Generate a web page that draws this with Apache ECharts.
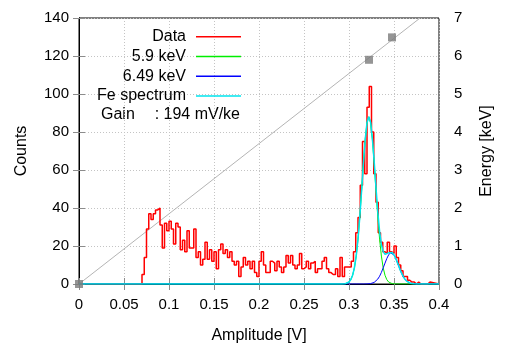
<!DOCTYPE html>
<html><head><meta charset="utf-8">
<script src="https://cdn.jsdelivr.net/npm/echarts@6/dist/echarts.min.js"></script>
<style>html,body{margin:0;padding:0;background:#fff}#c{width:523px;height:349px}</style>
</head><body><div id="c"></div>
<script>
// Histogram (Data): bins start at histStart, width histBinWidth
const histStart = 0.07;
const histBinWidth = 0.0025;
const dataCounts = [
  5, 14, 29, 37, 34, 37, 39, 40, 31, 19,
  32, 28, 33, 29, 21, 32, 30, 18, 23, 17,
  28, 19, 19, 29, 14, 17, 10, 13, 22, 13,
  18, 12, 17, 8, 18, 21, 16, 18, 14, 17,
  12, 10, 12, 4, 9, 14, 10, 12, 8, 12,
  6, 4, 12, 17, 10, 6, 6, 12, 11, 7,
  12, 9, 6, 9, 15, 11, 15, 10, 8, 10,
  16, 8, 9, 12, 8, 11, 12, 6, 8, 8,
  12, 14, 8, 6, 5, 5, 8, 4, 14, 4,
  9, 9, 9, 12, 17, 27, 35, 52, 75, 58,
  93, 104, 80, 58, 43, 27, 22, 17, 16, 22,
  17, 16, 20, 14, 10, 7, 4, 4, 2, 1,
  1, 0, 1, 0, 0, 0, 0, 1
];
// Fit curves
const fitX = [0, 0.288, 0.290, 0.292, 0.294, 0.296, 0.298, 0.300, 0.302, 0.304, 0.306, 0.308, 0.310, 0.312, 0.314, 0.316, 0.318, 0.320, 0.322, 0.324, 0.326, 0.328, 0.330, 0.332, 0.334, 0.336, 0.338, 0.340, 0.342, 0.344, 0.346, 0.348, 0.350, 0.352, 0.354, 0.356, 0.358, 0.360, 0.362, 0.364, 0.366, 0.368, 0.370, 0.372, 0.374, 0.376, 0.378, 0.380, 0.4];
const fit59 = [0, 0, 0.01, 0.02, 0.07, 0.18, 0.45, 1.06, 2.3, 4.6, 8.5, 14.7, 23.6, 35.3, 49.1, 63.4, 76.0, 84.9, 88.0, 84.9, 76.0, 63.4, 49.1, 35.3, 23.6, 14.7, 8.5, 4.6, 2.3, 1.06, 0.46, 0.18, 0.07, 0.02, 0.01, 0, 0, 0, 0, 0, 0, 0, 0, 0, 0, 0, 0, 0, 0];
const fit649 = [0, 0, 0, 0, 0, 0, 0, 0, 0, 0, 0, 0, 0, 0, 0, 0, 0.02, 0.04, 0.1, 0.21, 0.44, 0.85, 1.53, 2.6, 4.1, 6.1, 8.5, 11.0, 13.4, 15.3, 16.4, 16.4, 15.3, 13.4, 11.0, 8.5, 6.1, 4.1, 2.6, 1.53, 0.85, 0.44, 0.21, 0.1, 0.04, 0.02, 0, 0, 0];
const fitFe = [0, 0, 0.01, 0.02, 0.07, 0.18, 0.46, 1.06, 2.3, 4.6, 8.5, 14.7, 23.6, 35.3, 49.1, 63.4, 76.0, 84.9, 88.1, 85.1, 76.4, 64.3, 50.6, 37.9, 27.7, 20.8, 17.0, 15.6, 15.7, 16.4, 16.9, 16.6, 15.4, 13.4, 11.0, 8.5, 6.1, 4.1, 2.6, 1.53, 0.85, 0.44, 0.21, 0.1, 0.04, 0.02, 0, 0, 0];
// Energy calibration
const calibLineX = [0, 0.379];
const calibLineE = [0, 7];
const calibPointX = [0, 0.3222, 0.3478];
const calibPointE = [0, 5.9, 6.49];
const legendNames = ['Data', '5.9 keV', '6.49 keV', 'Fe spectrum'];
const gainLabel = 'Gain';
const gainValue = ': 194 mV/ke';

const FONT = '"Liberation Sans", Arial, sans-serif';
const histData = [[0, 0]];
dataCounts.forEach((c, i) => histData.push([histStart + i * histBinWidth, c]));
histData.push([histStart + dataCounts.length * histBinWidth, 0]);
histData.push([0.4, 0]);
const zip = (xs, ys) => xs.map((x, i) => [x, ys[i]]);

const chart = echarts.init(document.getElementById('c'));
const tickStyle = { inside: true, length: 6, lineStyle: { color: '#8c8c8c', width: 1 } };
const gridLine = { show: true, lineStyle: { color: '#c4c4c4', width: 1, type: [1, 2] } };
const labelStyle = { fontSize: 15, color: '#000', fontFamily: FONT };
const nameStyle = { fontSize: 16, color: '#000', fontFamily: FONT };
chart.setOption({
  animation: false,
  backgroundColor: '#fff',
  grid: { left: 79, right: 84, top: 18, bottom: 64, show: true, borderColor: '#000', borderWidth: 1 },
  legend: {
    orient: 'vertical', align: 'right', right: 282, top: 27, padding: 0, itemGap: 0,
    itemWidth: 45, itemHeight: 1.5, icon: 'rect',
    textStyle: { fontSize: 16, color: '#000', fontFamily: FONT, lineHeight: 19.7, padding: [0, 5, 0, 0] },
    data: legendNames
  },
  graphic: [
    { type: 'text', x: 101, y: 115, style: { text: gainLabel, fill: '#000', font: '16px ' + FONT, verticalAlign: 'middle', align: 'left' } },
    { type: 'text', x: 240, y: 115, style: { text: gainValue, fill: '#000', font: '16px ' + FONT, verticalAlign: 'middle', align: 'right' } }
  ],
  xAxis: [
    { type: 'value', min: 0, max: 0.4, interval: 0.05, position: 'bottom',
      name: 'Amplitude [V]', nameLocation: 'middle', nameGap: 44, nameTextStyle: nameStyle,
      axisLine: { show: true, lineStyle: { color: '#000' } }, axisTick: tickStyle,
      axisLabel: Object.assign({ margin: 13 }, labelStyle), splitLine: gridLine },
    { type: 'value', min: 0, max: 0.4, interval: 0.05, position: 'top',
      axisLine: { show: true, lineStyle: { color: '#000' } }, axisTick: tickStyle,
      axisLabel: { show: false }, splitLine: { show: false } }
  ],
  yAxis: [
    { type: 'value', min: 0, max: 140, interval: 20, position: 'left',
      name: 'Counts', nameLocation: 'middle', nameGap: 49, nameTextStyle: nameStyle,
      axisLine: { show: true, lineStyle: { color: '#000' } }, axisTick: tickStyle,
      axisLabel: Object.assign({ margin: 10 }, labelStyle), splitLine: gridLine },
    { type: 'value', min: 0, max: 7, interval: 1, position: 'right',
      name: 'Energy [keV]', nameLocation: 'middle', nameGap: 40, nameTextStyle: nameStyle,
      axisLine: { show: true, lineStyle: { color: '#000' } }, axisTick: tickStyle,
      axisLabel: Object.assign({ margin: 15 }, labelStyle), splitLine: { show: false } }
  ],
  series: [
    { name: 'calib', type: 'line', xAxisIndex: 0, yAxisIndex: 1, data: zip(calibLineX, calibLineE),
      symbol: 'none', silent: true, lineStyle: { color: '#b4b4b4', width: 1 }, itemStyle: { color: '#b4b4b4' }, z: 1 },
    { name: 'Data', type: 'line', step: 'end', data: histData, symbol: 'none',
      lineStyle: { color: '#ff0000', width: 1.5 }, itemStyle: { color: '#ff0000' }, z: 2 },
    { name: '5.9 keV', type: 'line', data: zip(fitX, fit59), symbol: 'none',
      lineStyle: { color: '#00ee00', width: 1 }, itemStyle: { color: '#00ee00' }, z: 3 },
    { name: '6.49 keV', type: 'line', data: zip(fitX, fit649), symbol: 'none',
      lineStyle: { color: '#0000ff', width: 1 }, itemStyle: { color: '#0000ff' }, z: 4 },
    { name: 'Fe spectrum', type: 'line', data: zip(fitX, fitFe), symbol: 'none',
      lineStyle: { color: '#00e5ee', width: 1.5 }, itemStyle: { color: '#00e5ee' }, z: 5 },
    { name: 'calibPts', type: 'scatter', xAxisIndex: 0, yAxisIndex: 1, data: zip(calibPointX, calibPointE),
      symbol: 'rect', symbolSize: 8, itemStyle: { color: '#7a7a7a' }, z: 6, clip: false }
  ]
});
</script></body></html>
